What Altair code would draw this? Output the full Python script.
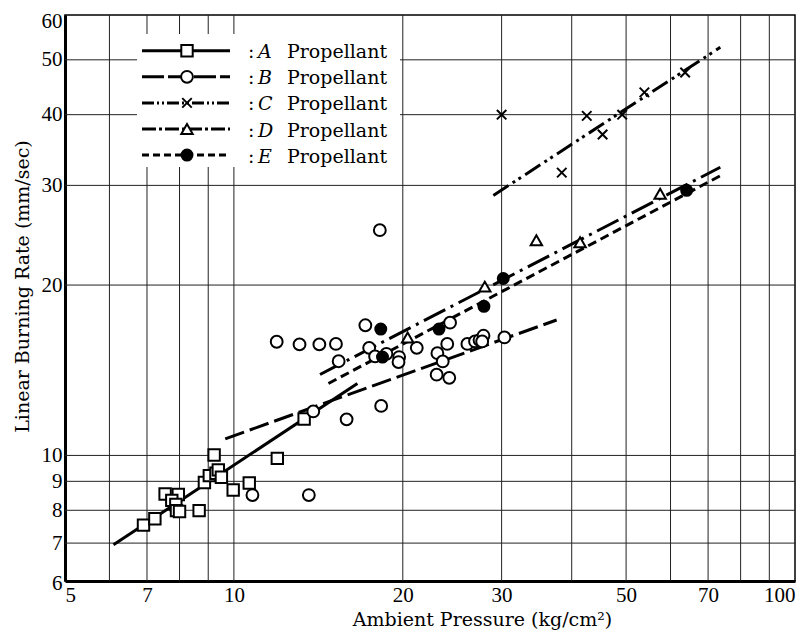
import altair as alt
import pandas as pd

# ---------------- data ----------------
A_x = [6.9, 7.23, 7.54, 7.96, 7.75, 7.88, 7.9, 8.0, 8.67, 8.86, 9.04, 9.29, 9.38, 9.5, 9.22, 9.97, 10.65, 11.95, 13.34]
A_y = [7.53, 7.73, 8.55, 8.53, 8.33, 8.19, 7.99, 7.96, 7.99, 8.96, 9.21, 9.30, 9.43, 9.15, 10.02, 8.69, 8.94, 9.88, 11.6]

B_x = [11.92, 13.09, 14.2, 15.2, 17.15, 15.37, 17.42, 17.85, 13.85, 15.88, 18.3, 10.79, 13.6, 18.2,
       18.7, 19.7, 19.65, 21.18, 24.28, 24.0, 23.05, 23.56, 22.98, 24.2, 26.07, 26.9, 27.4, 27.85, 27.7, 30.35]
B_y = [15.88, 15.71, 15.71, 15.74, 16.98, 14.67, 15.49, 14.96, 11.96, 11.58, 12.23, 8.51, 8.51, 25.0,
       15.12, 14.92, 14.62, 15.49, 17.16, 15.74, 15.16, 14.66, 13.89, 13.71, 15.74, 15.9, 15.99, 16.27, 15.9, 16.16]

C_x = [30.0, 38.4, 42.55, 45.4, 49.2, 53.9, 63.7]
C_y = [40.0, 31.6, 39.8, 36.9, 40.0, 43.8, 47.5]

D_x = [20.4, 28.0, 34.6, 41.4, 57.5]
D_y = [16.16, 19.87, 24.0, 23.8, 28.99]

E_x = [18.27, 18.4, 23.2, 27.9, 30.2, 64.1]
E_y = [16.72, 14.92, 16.72, 18.34, 20.54, 29.4]

# fitted lines (end points)
LA_x = [6.1, 16.6];   LA_y = [6.95, 13.4]
LB_x = [9.65, 37.6];  LB_y = [10.7, 17.35]
LC_x = [29.0, 73.6];  LC_y = [28.8, 52.6]
LD_x = [14.24, 73.6]; LD_y = [13.9, 32.3]
LE_x = [14.74, 73.6]; LE_y = [13.4, 31.2]

labels = ["A", "B", "C", "D", "E"]

x_grid = [6, 7, 8, 9, 10, 20, 30, 40, 50, 60, 70, 80, 90]
y_grid = [7, 8, 9, 10, 20, 30, 40, 50]
x_ticks = [5, 7, 10, 20, 30, 50, 70, 100]
y_ticks = [6, 7, 8, 9, 10, 20, 30, 40, 50, 60]

# ---------------- styling ----------------
xs = alt.Scale(type="log", domain=[5, 100], nice=False)
ys = alt.Scale(type="log", domain=[6, 60], nice=False)

x_axis = alt.Axis(values=x_ticks, format="d", title="Ambient Pressure (kg/cm²)",
                  titleX=417, titleY=38, titleBaseline="middle", titleAlign="center",
                  labelPadding=3, labelBaseline="top", grid=False, ticks=False)
y_axis = alt.Axis(values=y_ticks, format="d", title="Linear Burning Rate (mm/sec)",
                  titleX=-43, titleY=271, titleAngle=270, titleBaseline="middle", titleAlign="center",
                  labelPadding=3, grid=False, ticks=False,
                  labelOffset={"expr": "datum.value == 60 ? 6 : (datum.value == 6 ? 2 : 0)"})

CROSS = "M-1,-1L1,1M-1,1L1,-1"
styles = {
    "A": dict(shape="square", filled=False, dash=None, ldash=None, size=130),
    "B": dict(shape="circle", filled=False, dash=[20, 6], ldash=[22, 4], size=140),
    "C": dict(shape=CROSS, filled=False, dash=[18, 5, 3, 4, 3, 5], ldash=[12, 3, 2, 3, 2, 3], size=90),
    "D": dict(shape="triangle-up", filled=False, dash=[24, 6, 3, 6], ldash=[14, 3, 3, 3], size=130),
    "E": dict(shape="circle", filled=True, dash=[9, 5], ldash=[7, 4], size=120),
}
pts = {"A": (A_x, A_y), "B": (B_x, B_y), "C": (C_x, C_y), "D": (D_x, D_y), "E": (E_x, E_y)}
lines = {"A": (LA_x, LA_y), "B": (LB_x, LB_y), "C": (LC_x, LC_y), "D": (LD_x, LD_y), "E": (LE_x, LE_y)}

X = lambda: alt.X("x:Q", scale=xs, axis=x_axis)
Y = lambda: alt.Y("y:Q", scale=ys, axis=y_axis)

# grid lines
gx = alt.Chart(pd.DataFrame({"x": x_grid})).mark_rule(color="#222", strokeWidth=1).encode(x=X())
gy = alt.Chart(pd.DataFrame({"y": y_grid})).mark_rule(color="#222", strokeWidth=1).encode(y=Y())

one = alt.Data(values=[{}])
legend_box = alt.Chart(one).mark_rect(fill="white").encode(
    x=alt.value(72), x2=alt.value(335), y=alt.value(19), y2=alt.value(152))

layers = [gx, gy, legend_box]

for k in labels:
    st = styles[k]
    lx, ly = lines[k]
    lkw = dict(color="black", strokeWidth=3)
    if st["dash"]:
        lkw["strokeDash"] = st["dash"]
    layers.append(alt.Chart(pd.DataFrame({"x": lx, "y": ly})).mark_line(**lkw).encode(x=X(), y=Y()))

for k in labels:
    st = styles[k]
    px, py = pts[k]
    layers.append(alt.Chart(pd.DataFrame({"x": px, "y": py})).mark_point(
        shape=st["shape"], size=st["size"], filled=True,
        fill="black" if st["filled"] else "white", stroke="black", strokeWidth=2, opacity=1
    ).encode(x=X(), y=Y()))

# legend entries
row0, step = 35.7, 26.1
for i, k in enumerate(labels):
    st = styles[k]
    ry = row0 + i * step
    rkw = dict(color="black", strokeWidth=3)
    if st["ldash"]:
        rkw["strokeDash"] = st["ldash"]
    layers.append(alt.Chart(one).mark_rule(**rkw).encode(
        x=alt.value(77), x2=alt.value(165), y=alt.value(ry)))
    layers.append(alt.Chart(one).mark_point(
        shape=st["shape"], size=st["size"], filled=True,
        fill="black" if st["filled"] else "white", stroke="black", strokeWidth=2, opacity=1
    ).encode(x=alt.value(122), y=alt.value(ry)))
    layers.append(alt.Chart(one).mark_text(
        align="left", baseline="alphabetic", font="DejaVu Serif", fontSize=19, color="black"
    ).encode(x=alt.value(183), y=alt.value(ry + 7.5), text=alt.value(":")))
    layers.append(alt.Chart(one).mark_text(
        align="left", baseline="alphabetic", font="DejaVu Serif", fontSize=19, fontStyle="italic", color="black"
    ).encode(x=alt.value(193), y=alt.value(ry + 7.5), text=alt.value(k)))
    layers.append(alt.Chart(one).mark_text(
        align="left", baseline="alphabetic", font="DejaVu Serif", fontSize=19, color="black"
    ).encode(x=alt.value(222), y=alt.value(ry + 7.5), text=alt.value("Propellant")))

chart = alt.layer(*layers).properties(
    width=730, height=566,
    autosize=alt.AutoSizeParams(type="none"),
    padding={"left": 57, "top": 7, "right": 9, "bottom": 49},
).configure_view(
    stroke="black", strokeWidth=1.5
).configure_axis(
    grid=False, ticks=False, tickSize=0, domainColor="black", domainWidth=3, zindex=1,
    labelFont="Liberation Serif", labelFontSize=21, labelColor="black",
    titleFont="DejaVu Serif", titleFontSize=19, titleFontWeight="normal", titleColor="black",
)

chart.save("out.html", embed_options={"renderer": "svg", "actions": False})
